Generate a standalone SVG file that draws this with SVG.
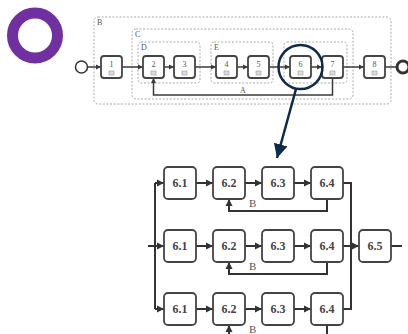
<svg xmlns="http://www.w3.org/2000/svg" width="408" height="334" viewBox="0 0 408 334">
<style>
.grp{fill:none;stroke:#a0a0a0;stroke-width:0.9;stroke-dasharray:2 1.6}
.glab{font-family:"Liberation Serif",serif;font-size:8px;fill:#555}
.task{fill:#fff;stroke:#444;stroke-width:1.8}
.tlab{font-family:"Liberation Serif",serif;font-size:8px;fill:#555;text-anchor:middle}
.icon{fill:#ddd;stroke:#999;stroke-width:0.6}
.tl{fill:none;stroke:#3a3a3a;stroke-width:1.5}
.sub{fill:#fff;stroke:#444;stroke-width:1.8}
.slab{font-family:"Liberation Serif",serif;font-size:12px;font-weight:bold;fill:#444;text-anchor:middle}
.bl{fill:none;stroke:#333;stroke-width:2}
.blab{font-family:"Liberation Serif",serif;font-size:11px;fill:#555}
</style>
<defs>
<marker id="ta" markerUnits="userSpaceOnUse" markerWidth="6" markerHeight="6" refX="5" refY="3" orient="auto"><path d="M0,0.5 L5,3 L0,5.5 Z" fill="#3a3a3a"/></marker>
<marker id="ba" markerUnits="userSpaceOnUse" markerWidth="8" markerHeight="8" refX="7" refY="4" orient="auto"><path d="M0,0.5 L7,4 L0,7.5 Z" fill="#333"/></marker>
<marker id="na" markerUnits="userSpaceOnUse" markerWidth="16" markerHeight="16" refX="14" refY="7" orient="auto"><path d="M0,0 L14,7 L0,14 Z" fill="#0d2a4a"/></marker>
</defs>
<g id="logo"><circle cx="35" cy="35.5" r="22.5" fill="none" stroke="#7030a0" stroke-width="11"/></g>
<g id="groups">
<rect class="grp" x="94" y="17" width="297" height="87" rx="4"/>
<text class="glab" x="97" y="25">B</text>
<rect class="grp" x="132" y="29" width="221" height="70" rx="4"/>
<text class="glab" x="135" y="37">C</text>
<rect class="grp" x="138" y="42" width="62" height="41" rx="3"/>
<text class="glab" x="141" y="50">D</text>
<rect class="grp" x="211" y="42" width="62" height="41" rx="3"/>
<text class="glab" x="214" y="50">E</text>
<rect class="grp" x="284" y="42" width="63" height="41" rx="3"/>
</g>
<g id="top-connectors">
<line class="tl" x1="87.5" y1="67" x2="101" y2="67" marker-end="url(#ta)"/>
<line class="tl" x1="122" y1="67" x2="143" y2="67" marker-end="url(#ta)"/>
<line class="tl" x1="164" y1="67" x2="174" y2="67" marker-end="url(#ta)"/>
<line class="tl" x1="195" y1="67" x2="216" y2="67" marker-end="url(#ta)"/>
<line class="tl" x1="237" y1="67" x2="248" y2="67" marker-end="url(#ta)"/>
<line class="tl" x1="269" y1="67" x2="290" y2="67" marker-end="url(#ta)"/>
<line class="tl" x1="311" y1="67" x2="322" y2="67" marker-end="url(#ta)"/>
<line class="tl" x1="343" y1="67" x2="364" y2="67" marker-end="url(#ta)"/>
<line class="tl" x1="385" y1="67" x2="397" y2="67"/>
<path class="tl" d="M332.5,78 V95 H153.5 V78" marker-end="url(#ta)"/>
<text class="glab" x="240" y="93">A</text>
</g>
<g id="start"><circle cx="81.5" cy="67" r="6" fill="#fff" stroke="#333" stroke-width="1.5"/></g>
<g id="end"><circle cx="403" cy="67" r="6" fill="#fff" stroke="#333" stroke-width="3"/></g>
<g id="t1"><rect class="task" x="101" y="56" width="21" height="22" rx="3"/><text class="tlab" x="111.5" y="67">1</text><rect class="icon" x="109" y="71" width="5" height="4"/></g>
<g id="t2"><rect class="task" x="143" y="56" width="21" height="22" rx="3"/><text class="tlab" x="153.5" y="67">2</text><rect class="icon" x="151" y="71" width="5" height="4"/></g>
<g id="t3"><rect class="task" x="174" y="56" width="21" height="22" rx="3"/><text class="tlab" x="184.5" y="67">3</text><rect class="icon" x="182" y="71" width="5" height="4"/></g>
<g id="t4"><rect class="task" x="216" y="56" width="21" height="22" rx="3"/><text class="tlab" x="226.5" y="67">4</text><rect class="icon" x="224" y="71" width="5" height="4"/></g>
<g id="t5"><rect class="task" x="248" y="56" width="21" height="22" rx="3"/><text class="tlab" x="258.5" y="67">5</text><rect class="icon" x="256" y="71" width="5" height="4"/></g>
<g id="t6"><rect class="task" x="290" y="56" width="21" height="22" rx="3"/><text class="tlab" x="300.5" y="67">6</text><rect class="icon" x="298" y="71" width="5" height="4"/></g>
<g id="t7"><rect class="task" x="322" y="56" width="21" height="22" rx="3"/><text class="tlab" x="332.5" y="67">7</text><rect class="icon" x="330" y="71" width="5" height="4"/></g>
<g id="t8"><rect class="task" x="364" y="56" width="21" height="22" rx="3"/><text class="tlab" x="374.5" y="67">8</text><rect class="icon" x="372" y="71" width="5" height="4"/></g>
<g id="zoom-callout">
<circle cx="300.5" cy="67" r="22" fill="none" stroke="#0d2a4a" stroke-width="2.5"/>
<line x1="296" y1="89" x2="277" y2="158" stroke="#0d2a4a" stroke-width="2.5" marker-end="url(#na)"/>
</g>
<g id="sub-connectors">
<path class="bl" d="M148,246 H155"/>
<path class="bl" d="M155,183 V309"/>
<path class="bl" d="M155,183 H164" marker-end="url(#ba)"/>
<path class="bl" d="M155,246 H164" marker-end="url(#ba)"/>
<path class="bl" d="M155,309 H164" marker-end="url(#ba)"/>
<path class="bl" d="M196,183 H213" marker-end="url(#ba)"/>
<path class="bl" d="M245,183 H262" marker-end="url(#ba)"/>
<path class="bl" d="M294,183 H311" marker-end="url(#ba)"/>
<path class="bl" d="M196,246 H213" marker-end="url(#ba)"/>
<path class="bl" d="M245,246 H262" marker-end="url(#ba)"/>
<path class="bl" d="M294,246 H311" marker-end="url(#ba)"/>
<path class="bl" d="M196,309 H213" marker-end="url(#ba)"/>
<path class="bl" d="M245,309 H262" marker-end="url(#ba)"/>
<path class="bl" d="M294,309 H311" marker-end="url(#ba)"/>
<path class="bl" d="M343,183 H351 V309 H343"/>
<path class="bl" d="M343,246 H359" marker-end="url(#ba)"/>
<path class="bl" d="M391,246 H402"/>
<path class="bl" d="M327,199 V211 H229 V199" marker-end="url(#ba)"/>
<path class="bl" d="M327,262 V274 H229 V262" marker-end="url(#ba)"/>
<path class="bl" d="M327,325 V334"/>
<path class="bl" d="M229,336 V325" marker-end="url(#ba)"/>
<text class="blab" x="249" y="207">B</text>
<text class="blab" x="249" y="270">B</text>
<text class="blab" x="249" y="333">B</text>
</g>
<g id="r1-61"><rect class="sub" x="164" y="167" width="32" height="32" rx="4"/><text class="slab" x="180" y="187">6.1</text></g>
<g id="r1-62"><rect class="sub" x="213" y="167" width="32" height="32" rx="4"/><text class="slab" x="229" y="187">6.2</text></g>
<g id="r1-63"><rect class="sub" x="262" y="167" width="32" height="32" rx="4"/><text class="slab" x="278" y="187">6.3</text></g>
<g id="r1-64"><rect class="sub" x="311" y="167" width="32" height="32" rx="4"/><text class="slab" x="327" y="187">6.4</text></g>
<g id="r2-61"><rect class="sub" x="164" y="230" width="32" height="32" rx="4"/><text class="slab" x="180" y="250">6.1</text></g>
<g id="r2-62"><rect class="sub" x="213" y="230" width="32" height="32" rx="4"/><text class="slab" x="229" y="250">6.2</text></g>
<g id="r2-63"><rect class="sub" x="262" y="230" width="32" height="32" rx="4"/><text class="slab" x="278" y="250">6.3</text></g>
<g id="r2-64"><rect class="sub" x="311" y="230" width="32" height="32" rx="4"/><text class="slab" x="327" y="250">6.4</text></g>
<g id="r2-65"><rect class="sub" x="359" y="230" width="32" height="32" rx="4"/><text class="slab" x="375" y="250">6.5</text></g>
<g id="r3-61"><rect class="sub" x="164" y="293" width="32" height="32" rx="4"/><text class="slab" x="180" y="313">6.1</text></g>
<g id="r3-62"><rect class="sub" x="213" y="293" width="32" height="32" rx="4"/><text class="slab" x="229" y="313">6.2</text></g>
<g id="r3-63"><rect class="sub" x="262" y="293" width="32" height="32" rx="4"/><text class="slab" x="278" y="313">6.3</text></g>
<g id="r3-64"><rect class="sub" x="311" y="293" width="32" height="32" rx="4"/><text class="slab" x="327" y="313">6.4</text></g>
</svg>
